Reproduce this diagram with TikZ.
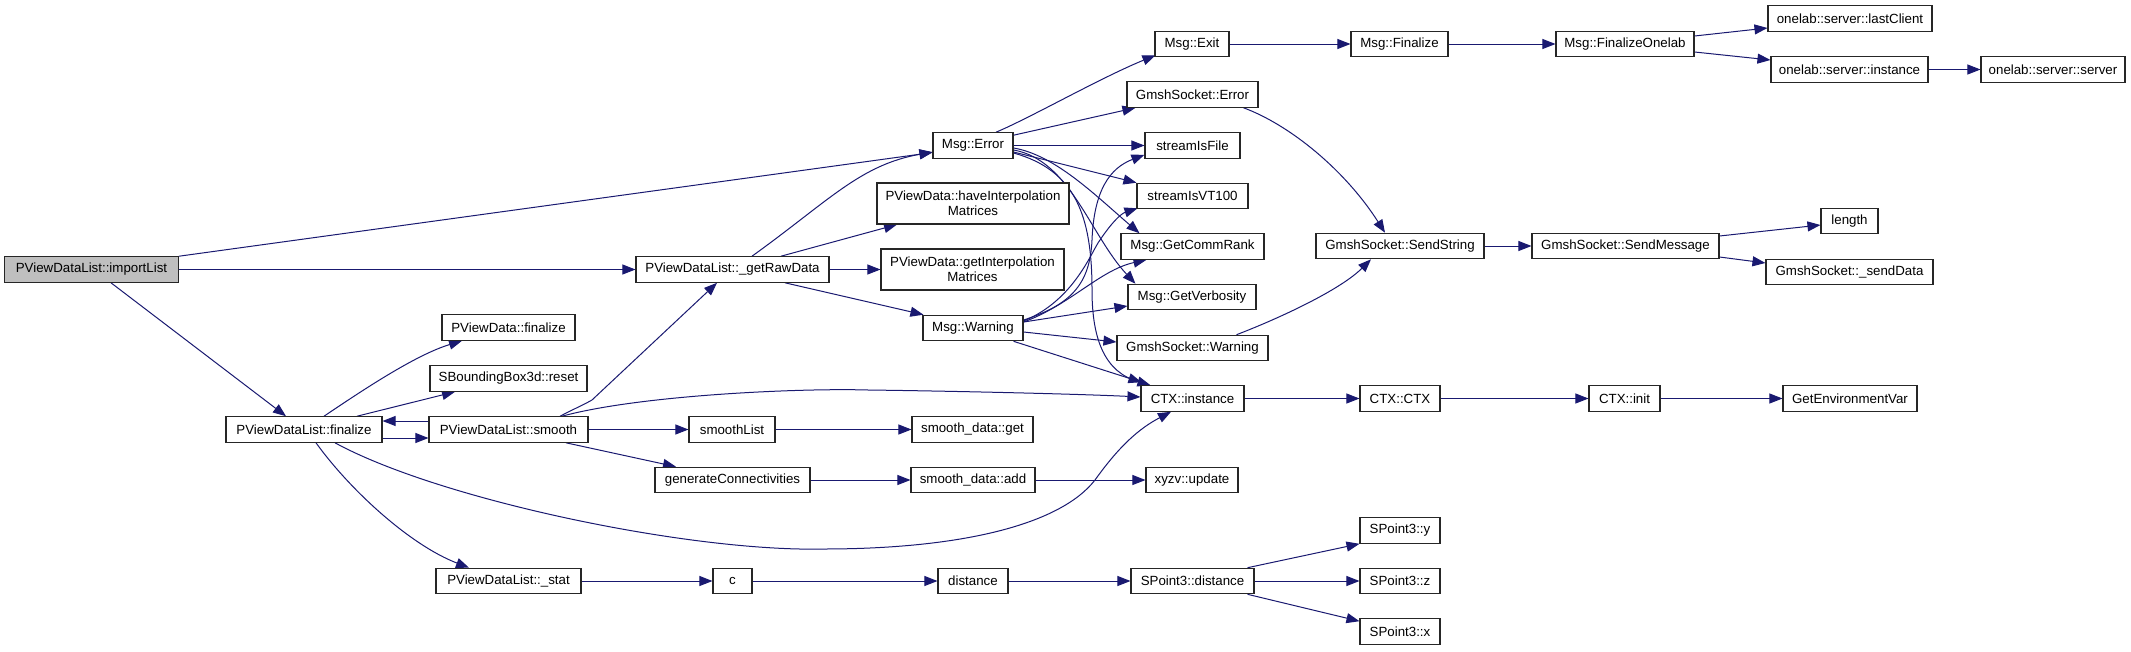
\documentclass[tikz,border=0pt]{standalone}
\usepackage{fontspec}
\setmainfont{Liberation Sans}
\usetikzlibrary{arrows.meta,calc,backgrounds}
\definecolor{edgeblue}{HTML}{191970}
\definecolor{nodegray}{HTML}{BFBFBF}
\tikzset{
  box/.style={draw=black!85, line width=1.1pt, fill=white, inner sep=0pt,
    minimum height=25.5pt, font=\fontsize{13.3}{15}\selectfont, align=center},
  e/.style={draw=edgeblue, line width=1pt, -{Triangle[length=13pt,width=10pt]}},
}
\begin{document}
\begin{tikzpicture}[x=1pt,y=-1pt]
\useasboundingbox (0,0) rectangle (2131,651);
% column 0-3
\node[box,fill=nodegray,minimum width=174pt] (importList) at (91.5,269.5) {PViewDataList::importList};
\node[box,minimum width=156pt] (finalize) at (304,429.5) {PViewDataList::finalize};
\node[box,minimum width=133pt] (pvfinalize) at (508.5,327.5) {PViewData::finalize};
\node[box,minimum width=157pt] (sbbreset) at (508.5,378.5) {SBoundingBox3d::reset};
\node[box,minimum width=159pt] (smooth) at (508.5,429.5) {PViewDataList::smooth};
\node[box,minimum width=145pt] (stat) at (508.5,581) {PViewDataList::\_stat};
\node[box,minimum width=193pt] (getRawData) at (732.5,269.5) {PViewDataList::\_getRawData};
\node[box,minimum width=86pt] (smoothList) at (732,429.5) {smoothList};
\node[box,minimum width=155pt] (genConn) at (732.5,480) {generateConnectivities};
\node[box,minimum width=39pt] (c) at (732.5,581) {c};
% column 4
\node[box,minimum width=80pt] (msgError) at (973,145.5) {Msg::Error};
\node[box,minimum width=192pt,minimum height=41pt] (haveInterp) at (973,203.5) {PViewData::haveInterpolation\\Matrices};
\node[box,minimum width=183pt,minimum height=41pt] (getInterp) at (972.5,269.5) {PViewData::getInterpolation\\Matrices};
\node[box,minimum width=100pt] (msgWarning) at (973,328) {Msg::Warning};
\node[box,minimum width=121pt] (sdget) at (972.5,429.5) {smooth\_data::get};
\node[box,minimum width=124pt] (sdadd) at (973,480) {smooth\_data::add};
\node[box,minimum width=70pt] (distance) at (973,581) {distance};
% column 5
\node[box,minimum width=74pt] (msgExit) at (1192,44) {Msg::Exit};
\node[box,minimum width=131pt] (gsError) at (1192.5,94.5) {GmshSocket::Error};
\node[box,minimum width=95pt] (streamIsFile) at (1192.5,145.5) {streamIsFile};
\node[box,minimum width=111pt] (streamIsVT) at (1192.5,196) {streamIsVT100};
\node[box,minimum width=143pt] (getCommRank) at (1192.5,246.5) {Msg::GetCommRank};
\node[box,minimum width=128pt] (getVerbosity) at (1192,297) {Msg::GetVerbosity};
\node[box,minimum width=151pt] (gsWarning) at (1192.5,348) {GmshSocket::Warning};
\node[box,minimum width=103pt] (ctxInstance) at (1192.5,398.5) {CTX::instance};
\node[box,minimum width=92pt] (xyzv) at (1192,480) {xyzv::update};
\node[box,minimum width=123pt] (sp3distance) at (1192.5,581) {SPoint3::distance};
% column 6
\node[box,minimum width=97pt] (msgFinalize) at (1399.5,44) {Msg::Finalize};
\node[box,minimum width=168pt] (sendString) at (1400,246) {GmshSocket::SendString};
\node[box,minimum width=80pt] (ctxCTX) at (1400,398.5) {CTX::CTX};
\node[box,minimum width=80pt] (sp3y) at (1400,530.5) {SPoint3::y};
\node[box,minimum width=80pt] (sp3z) at (1400,581) {SPoint3::z};
\node[box,minimum width=80pt] (sp3x) at (1400,631.5) {SPoint3::x};
% column 7
\node[box,minimum width=138pt] (finalizeOnelab) at (1625,44) {Msg::FinalizeOnelab};
\node[box,minimum width=187pt] (sendMessage) at (1625.5,246) {GmshSocket::SendMessage};
\node[box,minimum width=71pt] (ctxInit) at (1624.5,398.5) {CTX::init};
% column 8-9
\node[box,minimum width=164pt] (lastClient) at (1850,18.5) {onelab::server::lastClient};
\node[box,minimum width=157pt] (olInstance) at (1849.5,69.5) {onelab::server::instance};
\node[box,minimum width=57pt] (length) at (1849.5,221) {length};
\node[box,minimum width=167pt] (sendData) at (1849.5,272) {GmshSocket::\_sendData};
\node[box,minimum width=134pt] (getEnvVar) at (1850,398.5) {GetEnvironmentVar};
\node[box,minimum width=144pt] (olServer) at (2053,69.5) {onelab::server::server};

\begin{pgfonlayer}{background}
\draw[e] (importList.north east) -- ($(msgError.west)+(0,7)$);
\draw[e] (importList.east) -- (getRawData.west);
\draw[e] ($(importList.south)+(19.5,0)$) -- ($(finalize.north)+(-18,0)$);
\draw[e] ($(getRawData.north)+(19.5,0)$) .. controls (830,200) and (860,165) .. ($(msgError.west)+(0,6.5)$);
\draw[e] ($(getRawData.north)+(48.5,0)$) -- ($(haveInterp.south)+(-76,0)$);
\draw[e] (getRawData.east) -- (getInterp.west);
\draw[e] ($(getRawData.south)+(52.5,0)$) -- ($(msgWarning.north west)+(1,0)$);
\draw[e] ($(finalize.north)+(20,0)$) .. controls (360,392) and (415,355) .. ($(pvfinalize.south)+(-46.5,0)$);
\draw[e] ($(finalize.north)+(53,0)$) -- ($(sbbreset.south)+(-53.5,0)$);
\draw[e] ($(finalize.east)+(0,8.5)$) -- ($(smooth.west)+(0,8.5)$);
\draw[e] ($(smooth.west)+(0,-8.5)$) -- ($(finalize.east)+(0,-8.5)$);
\draw[e] ($(finalize.south)+(31,0)$) .. controls (440,500) and (690,552) .. (823,549)
   .. controls (960,549) and (1060,525) .. (1095,480)
   .. controls (1120,445) and (1140,428) .. ($(ctxInstance.south)+(-21.5,0)$);
\draw[e] ($(finalize.south)+(12,0)$) .. controls (350,490) and (410,545) .. ($(stat.north)+(-39.5,0)$);
\draw[e] ($(smooth.north)+(51.5,0)$) .. controls (578,407) and (585,404) .. (592,400) -- ($(getRawData.south)+(-15.5,0)$);
\draw[e] ($(smooth.north)+(53.5,0)$) .. controls (640,395) and (800,388) .. (868,390)
   .. controls (950,391) and (1080,394) .. ($(ctxInstance.west)+(0,-1.5)$);
\draw[e] (smooth.east) -- (smoothList.west);
\draw[e] ($(smooth.south)+(57.5,0)$) -- ($(genConn.north)+(-56.5,0)$);
\draw[e] (smoothList.east) -- (sdget.west);
\draw[e] (genConn.east) -- (sdadd.west);
\draw[e] (sdadd.east) -- (xyzv.west);
\draw[e] (stat.east) -- (c.west);
\draw[e] (c.east) -- (distance.west);
\draw[e] (distance.east) -- (sp3distance.west);
\draw[e] ($(sp3distance.north east)+(-7,0)$) -- (sp3y.south west);
\draw[e] (sp3distance.east) -- (sp3z.west);
\draw[e] ($(sp3distance.south east)+(-7,0)$) -- ($(sp3x.north west)+(0,3)$);
% Msg::Error
\draw[e] ($(msgError.north)+(23,0)$) .. controls (1030,118) and (1100,78) .. ($(msgExit.south west)+(1,-2)$);
\draw[e] ($(msgError.north east)+(0,3)$) -- ($(gsError.south west)+(9,0)$);
\draw[e] (msgError.east) -- (streamIsFile.west);
\draw[e] ($(msgError.east)+(0,6.5)$) -- (streamIsVT.north west);
\draw[e] ($(msgError.east)+(0,2.5)$) .. controls (1055,155) and (1095,195) .. ($(getCommRank.north west)+(19,0)$);
\draw[e] ($(msgError.east)+(0,4.5)$) .. controls (1070,160) and (1090,235) .. ($(getVerbosity.north west)+(8,0)$);
\draw[e] ($(msgError.east)+(0,7.5)$) .. controls (1075,170) and (1092,215) .. (1092,290)
   .. controls (1092,340) and (1105,372) .. ($(ctxInstance.north west)+(10,0)$);
% Msg::Warning
\draw[e] ($(msgWarning.east)+(0,-8)$) .. controls (1070,305) and (1090,285) .. (1092,240)
   .. controls (1094,190) and (1110,168) .. ($(streamIsFile.south west)+(0,-4)$);
\draw[e] ($(msgWarning.east)+(0,-7)$) .. controls (1075,300) and (1092,250) .. (1100,240)
   .. controls (1110,225) and (1120,214) .. ($(streamIsVT.south west)+(1,-1)$);
\draw[e] ($(msgWarning.east)+(0,-6)$) .. controls (1070,305) and (1100,270) .. ($(getCommRank.south west)+(26,0)$);
\draw[e] ($(msgWarning.east)+(0,-6)$) -- ($(getVerbosity.west)+(0,9)$);
\draw[e] ($(msgWarning.east)+(0,4)$) -- ($(gsWarning.west)+(0,-6)$);
\draw[e] ($(msgWarning.south east)+(-10,0)$) -- ($(ctxInstance.north west)+(1,-3)$);
% right part
\draw[e] (msgExit.east) -- (msgFinalize.west);
\draw[e] (msgFinalize.east) -- (finalizeOnelab.west);
\draw[e] ($(finalizeOnelab.east)+(0,-8)$) -- ($(lastClient.west)+(0,9.5)$);
\draw[e] ($(finalizeOnelab.east)+(0,8)$) -- ($(olInstance.west)+(0,-9.5)$);
\draw[e] (olInstance.east) -- (olServer.west);
\draw[e] ($(gsError.south east)+(-15,0)$) .. controls (1290,125) and (1345,170) .. ($(sendString.north)+(-15,0)$);
\draw[e] ($(gsWarning.north east)+(-32,0)$) .. controls (1280,318) and (1340,290) .. ($(sendString.south)+(-29,0)$);
\draw[e] (sendString.east) -- (sendMessage.west);
\draw[e] ($(sendMessage.east)+(0,-10)$) -- ($(length.west)+(0,4)$);
\draw[e] ($(sendMessage.east)+(0,11)$) -- ($(sendData.west)+(0,-9)$);
\draw[e] (ctxInstance.east) -- (ctxCTX.west);
\draw[e] (ctxCTX.east) -- (ctxInit.west);
\draw[e] (ctxInit.east) -- (getEnvVar.west);
\end{pgfonlayer}
\end{tikzpicture}
\end{document}
